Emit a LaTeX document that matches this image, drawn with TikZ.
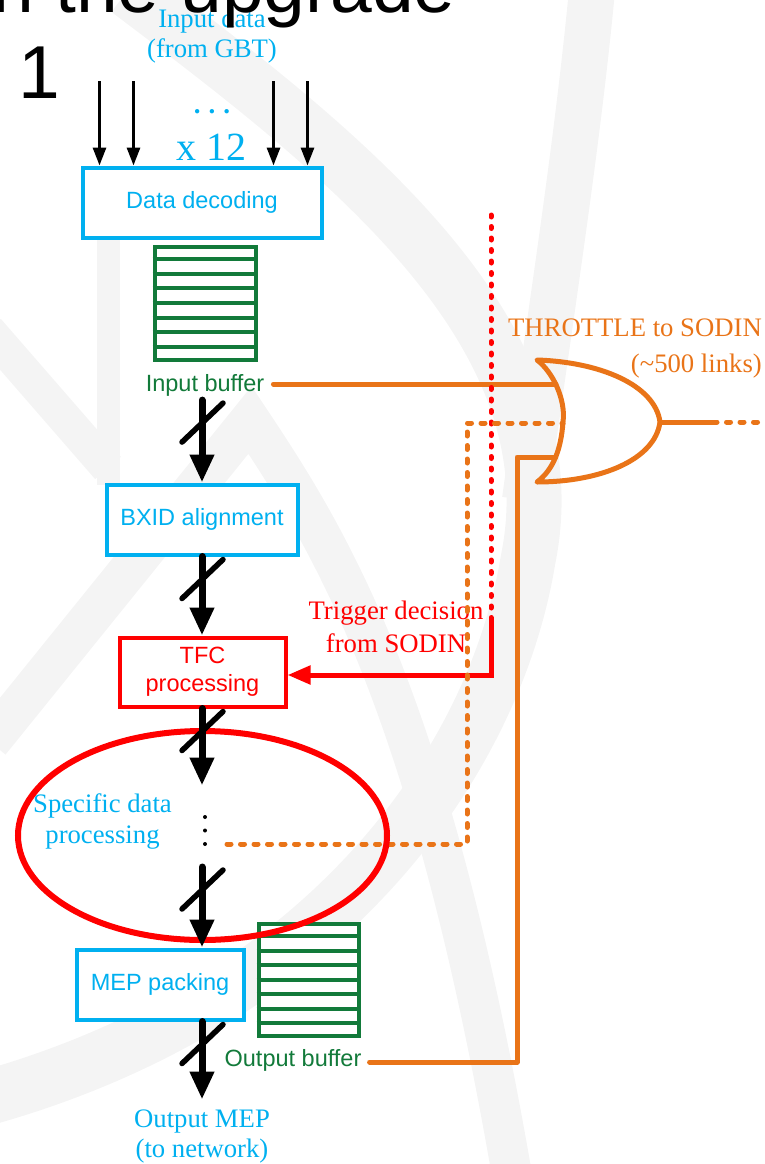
\documentclass[tikz,border=0pt]{standalone}
\usepackage{fontspec}
\setmainfont{Liberation Serif}
\setsansfont{Liberation Sans}
\usetikzlibrary{arrows.meta,shapes.geometric,calc}

\definecolor{flowcyan}{RGB}{0,176,240}
\definecolor{bufgreen}{RGB}{18,122,58}
\definecolor{thrOrange}{RGB}{233,116,24}
\definecolor{wmgray}{RGB}{244,244,244}

% slash across a bus arrow, placed relative to the arrow's start point
\newcommand\busslash[1]{\draw[slash] ($(#1)+(-20,42)$) -- ($(#1)+(21,3)$);}

\begin{document}
\begin{tikzpicture}[x=1pt,y=-1pt,
  procbox/.style={draw=flowcyan,line width=4pt,fill=white,minimum width=#1,
    minimum height=70pt,inner sep=0pt,text=flowcyan,align=center,
    font=\sffamily\fontsize{23.5}{28}\selectfont},
  tfcbox/.style={procbox=#1,draw=red,text=red},
  bufbox/.style={draw=bufgreen,line width=4pt,fill=white,minimum width=101pt,
    minimum height=113pt,inner sep=0pt},
  bufline/.style={draw=bufgreen,line width=4pt},
  sanslbl/.style={inner sep=0pt,font=\sffamily\fontsize{23.5}{28}\selectfont},
  seriflbl/.style={inner sep=0pt,align=center,font=\fontsize{26.7}{#1}\selectfont},
  bus/.style={line width=7pt,line cap=round,-{Triangle[length=28pt,width=23pt]}},
  slash/.style={line width=5.5pt,line cap=round},
  feed/.style={line width=3pt,-{Triangle[length=18pt,width=13pt]}},
  thr/.style={draw=thrOrange,line width=5pt,line cap=round,line join=round},
  thrdash/.style={draw=thrOrange,line width=5pt,line cap=round,dash pattern=on 4pt off 9.5pt},
  trigdot/.style={draw=red,line width=5pt,line cap=round,dash pattern=on 2pt off 9.5pt},
  trig/.style={draw=red,line width=5pt,-{Triangle[length=23pt,width=18pt]}},
  wm/.style={draw=wmgray,line cap=butt,line join=miter}]

\useasboundingbox (0,0) rectangle (764,1164);
\clip (0,0) rectangle (764,1164);

% faint background logo strokes
\draw[wm,line width=55pt] (128,-10) .. controls (340,150) and (575,330) .. (528,560)
  .. controls (495,760) and (330,1000) .. (-10,1097);
\draw[wm,line width=46pt] (592,-10) .. controls (577,150) and (548,330) .. (525,500);
\draw[wm,line width=40pt] (-10,742) -- (250,420) .. controls (330,540) and (430,700) .. (512,1175);
\draw[wm,line width=34pt] (-12,330) -- (108,468);
\draw[wm,line width=23pt] (108,485) -- (108,170);

% processing blocks
\node[procbox=239] (dd) at (202,202.5) {Data decoding};
\node[procbox=191] (bxid) at (202,519.5) {BXID alignment};
\node[tfcbox=166,minimum height=69pt] (tfc) at (202.5,672) {TFC\\processing};
\node[procbox=167] (mep) at (160,984.5) {MEP packing};

% buffers
\node[bufbox] (ibuf) at (205,303) {};
\foreach \k in {1,...,7}
  \draw[bufline] ($(ibuf.north west)!\k/8!(ibuf.south west)$) -- ($(ibuf.north east)!\k/8!(ibuf.south east)$);
\node[bufbox,minimum width=100pt,minimum height=112pt] (obuf) at (308.5,979.5) {};
\foreach \k in {1,...,7}
  \draw[bufline] ($(obuf.north west)!\k/8!(obuf.south west)$) -- ($(obuf.north east)!\k/8!(obuf.south east)$);

% labels
\node[sanslbl,text=bufgreen,anchor=base] (ibl) at (205,391) {Input buffer};
\node[sanslbl,text=bufgreen,anchor=base] (obl) at (293,1066) {Output buffer};
\node[seriflbl=30,text=flowcyan] (inl) at (212,36.3) {Input data\\(from GBT)};
\node[inner sep=0pt,text=flowcyan,font=\bfseries\fontsize{27}{30}\selectfont,anchor=base] (indots) at (212,113) {.\hspace{8pt}.\hspace{8pt}.};
\node[inner sep=0pt,text=flowcyan,font=\fontsize{40}{48}\selectfont,anchor=base] (x12) at (211,160) {x 12};
\node[seriflbl=33,text=red] (trigl) at (396,626.6) {Trigger decision\\from SODIN};
\node[seriflbl=36,text=thrOrange,align=right,anchor=east] (thrl) at (762,348.5) {THROTTLE to SODIN\\(\textasciitilde500 links)};
\node[seriflbl=31,text=flowcyan] (specl) at (102.5,821.3) {Specific data\\processing};
\node[seriflbl=30,text=flowcyan] (outl) at (202,1136.4) {Output MEP\\(to network)};

% OR gate collecting the throttle requests
\coordinate (orin1) at (556,384);
\coordinate (orin2) at (563,423);
\coordinate (orin3) at (555.5,457);
\coordinate (orout) at (660,422);
\coordinate (orlead) at (713,422);
\coordinate (thrbus) at (517,457);
\coordinate (thrdrop) at (467,423);
\coordinate (specout) at (227,844);

\draw[thr] ($(ibl.base east)+(9,-7)$) -- (orin1);
\draw[thr] ($(obl.base east)+(8,-4)$) -| (thrbus) -- (orin3);

% trigger decision from SODIN
\coordinate (trigsrc) at (491,215);
\coordinate (trigsolid) at (491,618);
\coordinate (trigturn) at (491,675);
\draw[trigdot] (trigsrc) -- (trigsolid);
\draw[trig] (trigsolid) -- (trigturn) -- (trigturn -| tfc.east);

\draw[thrdash] (specout) -| (thrdrop) -- (orin2);
\draw[thr] (537,360) .. controls (600,362) and (655,385) .. (orout)
  .. controls (655,460) and (600,482) .. (537,482)
  .. controls (553,470) and (561,450) .. (563,422)
  .. controls (566,400) and (553,372) .. (537,360) -- cycle;
\draw[thr] (orout) -- (orlead);
\draw[thrdash] (orlead) -- (775,422);

% specific data processing region
\node[draw=red,line width=6pt,ellipse,minimum width=369pt,minimum height=209pt,inner sep=0pt] (spec) at (202.5,835.5) {};
\foreach \yy in {817,830.5,844} \fill (205,\yy) circle (2pt);

% input links
\foreach \dx in {19,53,193,227}
  \draw[feed] ($(dd.north west)+(\dx,-84.5)$) -- ($(dd.north west)+(\dx,0)$);

% data path
\coordinate (s1) at ($(ibl.south -| bxid.north)+(0,4)$);
\draw[bus] (s1) -- (bxid.north); \busslash{s1}
\coordinate (s2) at (bxid.south);
\draw[bus] (s2) -- (s2 |- tfc.north); \busslash{s2}
\coordinate (s3) at (tfc.south -| bxid.south);
\draw[bus] (s3) -- ($(s3)+(0,77)$); \busslash{s3}
\coordinate (s4) at ($(spec.center -| bxid.south)+(0,31.5)$);
\draw[bus] (s4) -- (s4 |- mep.north); \busslash{s4}
\coordinate (s5) at (s4 |- mep.south);
\draw[bus] (s5) -- ($(s5 |- outl.north)+(0,-10)$); \busslash{s5}

% slide title, cut by the frame
\node[inner sep=0pt,font=\sffamily\fontsize{75}{80}\selectfont,anchor=base east] (ttl) at (456,13) {n the upgrade};
\node[inner sep=0pt,font=\sffamily\fontsize{75}{80}\selectfont,anchor=base west] (ttlnum) at (18,98) {1};
\end{tikzpicture}
\end{document}
